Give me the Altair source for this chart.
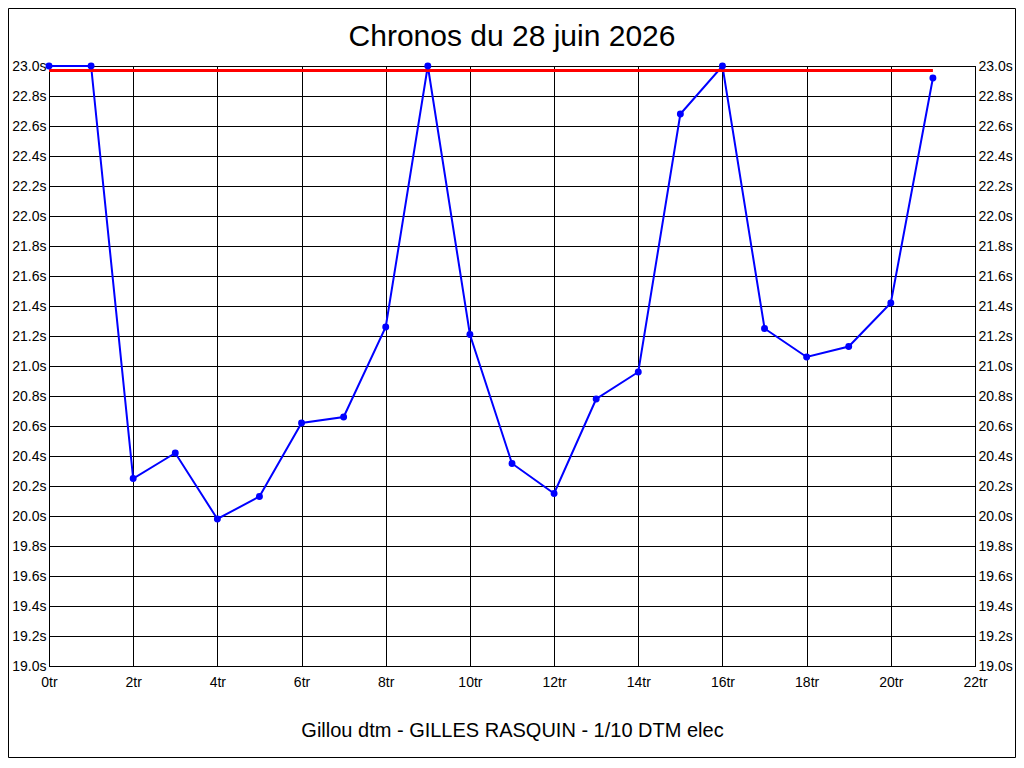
import altair as alt
import pandas as pd

laps = list(range(22))
times = [23.0, 23.0, 20.25, 20.42, 19.98, 20.13, 20.62, 20.66, 21.26, 23.0,
         21.21, 20.35, 20.15, 20.78, 20.96, 22.68, 23.0, 21.25, 21.06, 21.13,
         21.42, 22.92]
ref_time = 22.97
ref_start, ref_end = 0, 21
y_ticks = [round(19.0 + 0.2 * i, 1) for i in range(21)]
x_ticks = list(range(0, 23, 2))
title_text = "Chronos du 28 juin 2026"
footer_text = "Gillou dtm - GILLES RASQUIN - 1/10 DTM elec"

df = pd.DataFrame({"lap": laps, "time": times})
ref = pd.DataFrame({"x": [ref_start], "x2": [ref_end], "y": [ref_time]})

W, H = 926, 600
PL, PT, PR, PB = 41, 58, 41, 92
FONT = "Liberation Sans"

xscale = alt.Scale(domain=[0, 22], nice=False, zero=False)
yscale = alt.Scale(domain=[19.0, 23.0], nice=False, zero=False)

xaxis = alt.Axis(values=x_ticks, labelExpr="datum.value + 'tr'", title=footer_text,
                 grid=True, gridColor="black", gridOpacity=1, gridWidth=1,
                 domainColor="black", tickSize=0, labelPadding=9, labelFlush=False,
                 labelFont=FONT, labelFontSize=14, labelColor="black",
                 titleFont=FONT, titleFontSize=20, titleFontWeight="normal",
                 titleColor="black", titlePadding=31)

def yaxis(orient):
    return alt.Axis(orient=orient, values=y_ticks,
                    labelExpr="format(datum.value, '.1f') + 's'", title=None,
                    grid=(orient == "left"), gridColor="black", gridOpacity=1,
                    gridWidth=1, domainColor="black", tickSize=0, labelPadding=3,
                    labelFlush=False,
                    labelFont=FONT, labelFontSize=14, labelColor="black")

line = alt.Chart(df).mark_line(color="#0000FF", strokeWidth=2).encode(
    x=alt.X("lap:Q", scale=xscale, axis=xaxis),
    y=alt.Y("time:Q", scale=yscale, axis=yaxis("left")),
)

points = alt.Chart(df).mark_circle(color="#0000FF", opacity=1, size=48).encode(
    x=alt.X("lap:Q", scale=xscale, axis=xaxis),
    y=alt.Y("time:Q", scale=yscale, axis=yaxis("right")),
)

redline = alt.Chart(ref).mark_rule(color="#FF0000", strokeWidth=3).encode(
    x=alt.X("x:Q", scale=xscale),
    x2="x2:Q",
    y=alt.Y("y:Q", scale=yscale, axis=None),
)

one = pd.DataFrame({"label": [title_text]})

title = alt.Chart(one).mark_text(font=FONT, fontSize=30, color="black",
                                 align="center", baseline="alphabetic").encode(
    x=alt.value(W / 2), y=alt.value(-20), text="label:N",
)

border = alt.Chart(one).mark_rect(
    fill=None, stroke="black", strokeWidth=1).encode(
    x=alt.value(-PL + 0.5), x2=alt.value(W + PR - 0.5),
    y=alt.value(-PT + 0.5), y2=alt.value(H + PB - 0.5),
)

chart = alt.layer(line, redline, points, title, border).resolve_scale(
    y="independent"
).properties(
    width=W, height=H,
    autosize=alt.AutoSizeParams(type="none"),
    padding={"left": PL, "top": PT, "right": PR, "bottom": PB},
    background="white",
).configure_view(stroke="black", strokeWidth=1)

chart.save("out.html", embed_options={"renderer": "svg", "actions": False})
